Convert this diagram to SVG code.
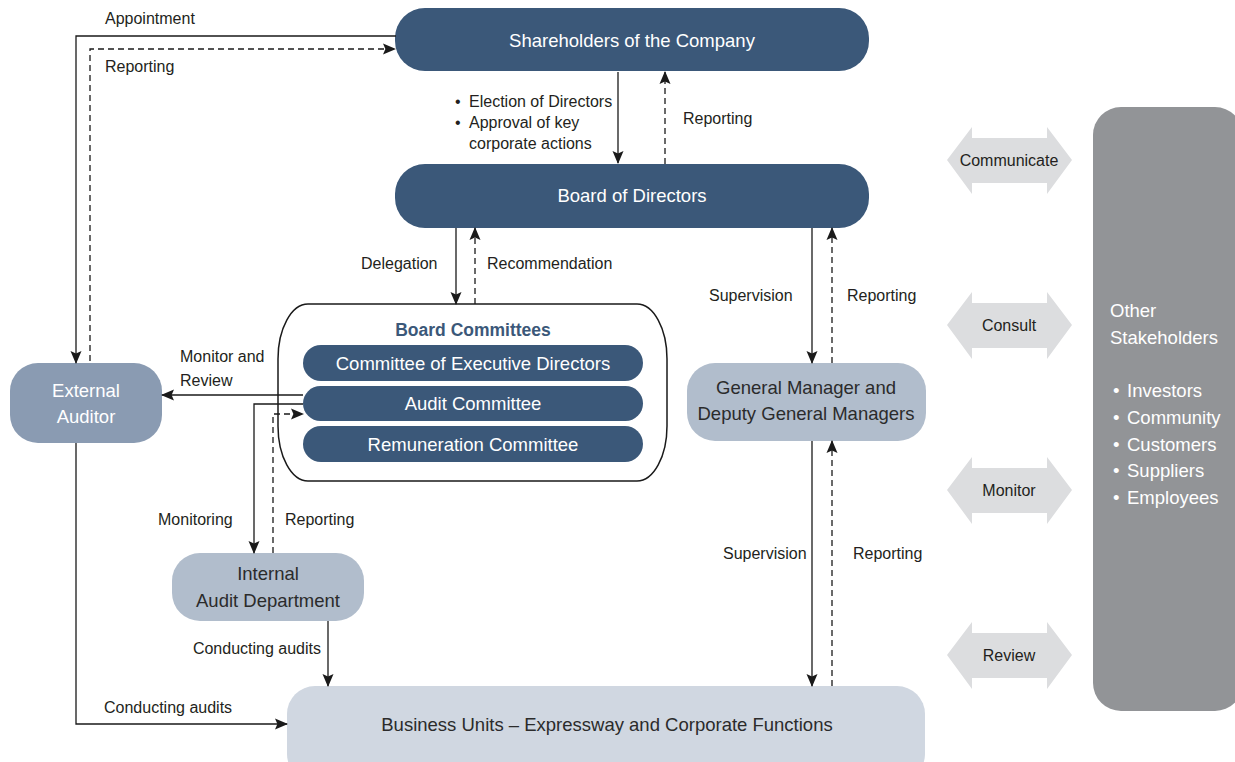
<svg xmlns="http://www.w3.org/2000/svg" width="1235" height="762" viewBox="0 0 1235 762">
  <defs>
    <marker id="arrow" markerUnits="userSpaceOnUse" markerWidth="13" markerHeight="12" viewBox="0 0 13 12" refX="12" refY="6" orient="auto">
      <path d="M0,0.5 L13,6 L0,11.5 L2.4,6 Z" fill="#1a1a1a"/>
    </marker>
    <style>
      text { font-family: "Liberation Sans", Arial, sans-serif; }
      .lbl { font-size: 16px; fill: #231f20; }
      .dark { fill: #3b5879; }
      .mid { fill: #8a9bb2; }
      .light { fill: #b1bdcc; }
      .pale { fill: #d0d7e1; }
      .wt { fill: #ffffff; font-size: 18.5px; text-anchor: middle; }
      .dt { fill: #2b2b2b; font-size: 18.5px; text-anchor: middle; }
      .solid { fill: none; stroke: #1a1a1a; stroke-width: 1.3; marker-end: url(#arrow); }
      .dash { fill: none; stroke: #1a1a1a; stroke-width: 1.3; stroke-dasharray: 6 4; marker-end: url(#arrow); }
      .dbl { fill: #dcdddf; }
      .dbltxt { font-size: 16px; fill: #231f20; text-anchor: middle; }
    </style>
  </defs>

  <rect width="1235" height="762" fill="#ffffff"/>

  <!-- Shareholders -->
  <g id="shareholders">
    <rect class="dark" x="395" y="8" width="474" height="63" rx="30"/>
    <text class="wt" x="632" y="47">Shareholders of the Company</text>
  </g>

  <!-- Board of Directors -->
  <g id="board">
    <rect class="dark" x="395" y="164" width="474" height="64" rx="30"/>
    <text class="wt" x="632" y="202">Board of Directors</text>
  </g>

  <!-- Board Committees container -->
  <g id="committees">
    <rect x="278" y="304" width="389" height="177" rx="30" ry="55" fill="#ffffff" stroke="#1a1a1a" stroke-width="1.5"/>
    <text x="473" y="336" font-size="17.5" font-weight="bold" fill="#3b5879" text-anchor="middle">Board Committees</text>
  </g>
  <g id="exec-committee">
    <rect class="dark" x="303" y="345" width="340" height="36" rx="18"/>
    <text class="wt" x="473" y="370" font-size="18">Committee of Executive Directors</text>
  </g>
  <g id="audit-committee">
    <rect class="dark" x="303" y="386" width="340" height="35" rx="17.5"/>
    <text class="wt" x="473" y="410">Audit Committee</text>
  </g>
  <g id="remuneration-committee">
    <rect class="dark" x="303" y="426" width="340" height="36" rx="18"/>
    <text class="wt" x="473" y="451">Remuneration Committee</text>
  </g>

  <!-- External Auditor -->
  <g id="external-auditor">
    <rect class="mid" x="10" y="363" width="152" height="80" rx="28"/>
    <text class="wt" x="86" y="397" fill="#f2f4f7">External</text>
    <text class="wt" x="86" y="423" fill="#f2f4f7">Auditor</text>
  </g>

  <!-- General Manager -->
  <g id="general-manager">
    <rect class="light" x="687" y="363" width="239" height="78" rx="28"/>
    <text class="dt" x="806" y="394">General Manager and</text>
    <text class="dt" x="806" y="420">Deputy General Managers</text>
  </g>

  <!-- Internal Audit Department -->
  <g id="internal-audit">
    <rect class="light" x="172" y="553" width="192" height="68" rx="28"/>
    <text class="dt" x="268" y="580">Internal</text>
    <text class="dt" x="268" y="607">Audit Department</text>
  </g>

  <!-- Business Units -->
  <g id="business-units">
    <rect class="pale" x="287" y="686" width="638" height="96" rx="28"/>
    <text class="dt" x="607" y="731" font-size="18">Business Units – Expressway and Corporate Functions</text>
  </g>

  <!-- Other Stakeholders -->
  <g id="stakeholders">
    <rect x="1093" y="107" width="150" height="604" rx="28" fill="#929497"/>
    <g font-size="18.5" fill="#ffffff">
      <text x="1110" y="317">Other</text>
      <text x="1110" y="344">Stakeholders</text>
      <text x="1113" y="397">•<tspan x="1127">Investors</tspan></text>
      <text x="1113" y="424">•<tspan x="1127">Community</tspan></text>
      <text x="1113" y="451">•<tspan x="1127">Customers</tspan></text>
      <text x="1113" y="477">•<tspan x="1127">Suppliers</tspan></text>
      <text x="1113" y="504">•<tspan x="1127">Employees</tspan></text>
    </g>
  </g>

  <!-- Two-way engagement arrows -->
  <g id="engagement">
    <polygon class="dbl" points="947,160 972,127 972,138 1047,138 1047,127 1072,160 1047,194 1047,183 972,183 972,194"/>
    <text class="dbltxt" x="1009" y="166">Communicate</text>
    <polygon class="dbl" points="947,325 972,292 972,303 1047,303 1047,292 1072,325 1047,359 1047,348 972,348 972,359"/>
    <text class="dbltxt" x="1009" y="331">Consult</text>
    <polygon class="dbl" points="947,490 972,457 972,468 1047,468 1047,457 1072,490 1047,524 1047,513 972,513 972,524"/>
    <text class="dbltxt" x="1009" y="496">Monitor</text>
    <polygon class="dbl" points="947,655 972,622 972,633 1047,633 1047,622 1072,655 1047,689 1047,678 972,678 972,689"/>
    <text class="dbltxt" x="1009" y="661">Review</text>
  </g>

  <!-- Connectors -->
  <g id="connectors">
    <path class="solid" d="M396,36 H76 V363"/>
    <path class="dash" d="M90,361 V49 H395"/>
    <path class="solid" d="M618,72 V163"/>
    <path class="dash" d="M665,164 V72"/>
    <path class="solid" d="M456,228 V304"/>
    <path class="dash" d="M475,304 V228"/>
    <path class="solid" d="M812,228 V363"/>
    <path class="dash" d="M832,363 V228"/>
    <path class="solid" d="M812,441 V686"/>
    <path class="dash" d="M832,686 V441"/>
    <path class="solid" d="M303,395 H162"/>
    <path class="solid" d="M303,404 H254 V553"/>
    <path class="dash" d="M273,553 V414 H303"/>
    <path class="solid" d="M328,621 V686"/>
    <path class="solid" d="M76,443 V724 H287"/>
  </g>

  <!-- Connector labels -->
  <g id="labels" class="lbl">
    <text x="105" y="24">Appointment</text>
    <text x="105" y="72">Reporting</text>
    <text x="455" y="107">•<tspan x="469">Election of Directors</tspan></text>
    <text x="455" y="128">•<tspan x="469">Approval of key</tspan></text>
    <text x="469" y="149">corporate actions</text>
    <text x="683" y="124">Reporting</text>
    <text x="361" y="269">Delegation</text>
    <text x="487" y="269">Recommendation</text>
    <text x="709" y="301">Supervision</text>
    <text x="847" y="301">Reporting</text>
    <text x="180" y="362">Monitor and</text>
    <text x="180" y="386">Review</text>
    <text x="158" y="525">Monitoring</text>
    <text x="285" y="525">Reporting</text>
    <text x="723" y="559">Supervision</text>
    <text x="853" y="559">Reporting</text>
    <text x="321" y="654" text-anchor="end">Conducting audits</text>
    <text x="104" y="713">Conducting audits</text>
  </g>
</svg>
